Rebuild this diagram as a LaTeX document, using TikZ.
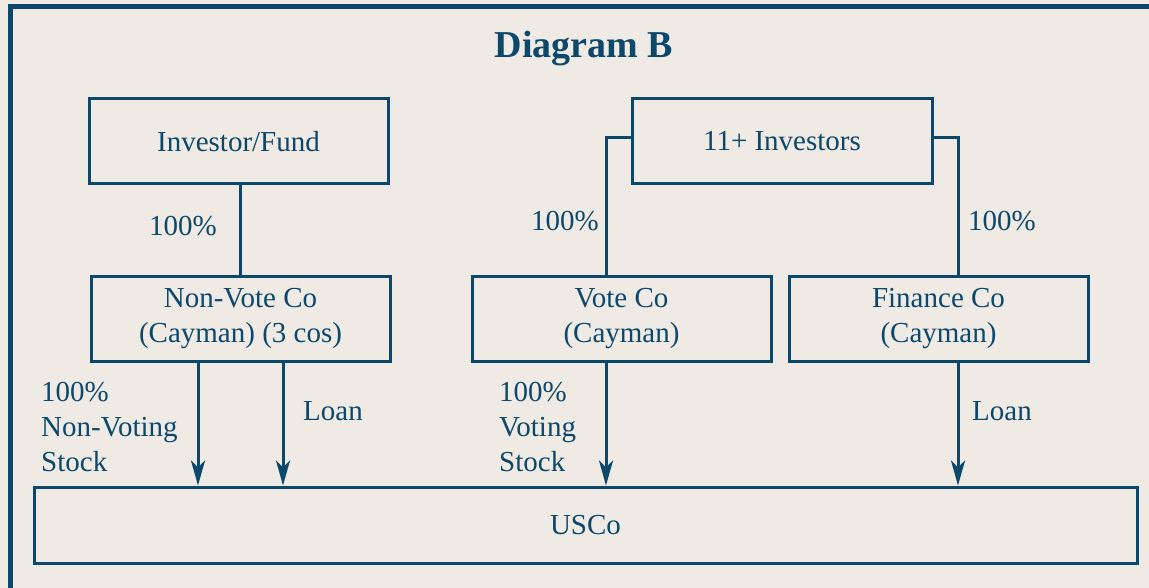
\documentclass[tikz,border=0pt]{standalone}
\usepackage{fontspec}
\setmainfont{Liberation Serif}
\usetikzlibrary{arrows.meta,calc}
\definecolor{dblue}{RGB}{12,72,108}
\definecolor{bgc}{RGB}{239,234,227}
\begin{document}
\begin{tikzpicture}[x=1pt,y=-1pt,
  box/.style={draw=dblue,line width=3pt,minimum width=299pt,minimum height=84pt,inner sep=0pt,
    font=\fontsize{29}{35}\selectfont,text=dblue,align=center},
  lbl/.style={font=\fontsize{29}{35}\selectfont,text=dblue,inner sep=0pt,align=left},
  conn/.style={draw=dblue,line width=3pt},
  arr/.style={conn,-{Stealth[length=25pt,width=14pt,inset=7pt]}}]
\useasboundingbox (0,0) rectangle (1149,588);
\fill[bgc] (0,0) rectangle (1149,588);
\draw[dblue,line width=5pt] (10.5,600) -- (10.5,6.5) -- (1160,6.5);
\node[text=dblue,font=\bfseries\fontsize{38}{42}\selectfont] (title) at (584,49) {Diagram B};
\node[box,minimum width=299pt,minimum height=85pt] (IF) at (238.5,141.5) {Investor/Fund};
\node[box,minimum width=300pt,minimum height=85pt] (II) at (782,141.5) {11+ Investors};
\node[box] (NV) at (240.5,319) {Non-Vote Co\\(Cayman) (3 cos)};
\node[box] (VC) at (621.5,319) {Vote Co\\(Cayman)};
\node[box] (FC) at (938.5,319) {Finance Co\\(Cayman)};
\node[box,minimum width=1103pt,minimum height=76pt] (US) at (585.5,525) {USCo};
% connectors
\draw[conn] ([xshift=1.5pt]IF.south) -- ([xshift=1.5pt]IF.south |- NV.north);
\draw[conn] ([yshift=3.5pt]II.west) -| ([xshift=-15.5pt]VC.north);
\draw[conn] ([yshift=3.5pt]II.east) -| ([xshift=19.5pt]FC.north);
\draw[arr] ([xshift=-42.5pt]NV.south) -- ([xshift=-42.5pt]NV.south |- US.north);
\draw[arr] ([xshift=42.5pt]NV.south) -- ([xshift=42.5pt]NV.south |- US.north);
\draw[arr] ([xshift=-15.5pt]VC.south) -- ([xshift=-15.5pt]VC.south |- US.north);
\draw[arr] ([xshift=19.5pt]FC.south) -- ([xshift=19.5pt]FC.south |- US.north);
% labels
\node[lbl] (l1) at (183,226) {100\%};
\node[lbl] (l2) at (565,221) {100\%};
\node[lbl] (l3) at (1002,221) {100\%};
\node[lbl,anchor=west] (l4) at (41,427) {100\%\\Non-Voting\\Stock};
\node[lbl] (l5) at (333,411) {Loan};
\node[lbl,anchor=west] (l6) at (499,427) {100\%\\Voting\\Stock};
\node[lbl] (l7) at (1002,411) {Loan};
\end{tikzpicture}
\end{document}
